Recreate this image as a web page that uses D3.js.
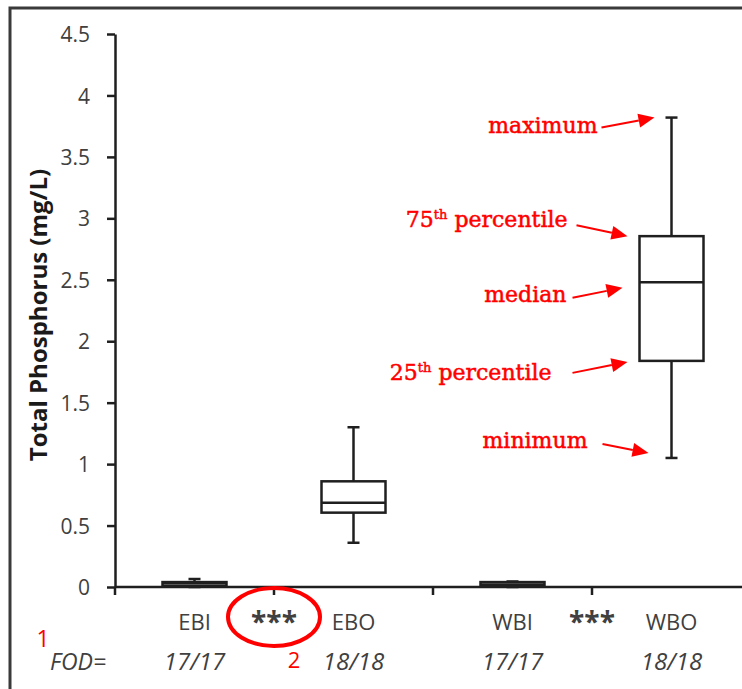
<!DOCTYPE html>
<html>
<head>
<meta charset="utf-8">
<script src="https://cdn.jsdelivr.net/npm/d3@7"></script>
<style>
  html, body { margin: 0; padding: 0; background: #fff; }
  svg { display: block; }
</style>
</head>
<body>
<svg id="chart" width="742" height="689"></svg>
<script>
// Total phosphorus five-number summaries per site
const categories = ["EBI", "EBO", "WBI", "WBO"];
const fodLabels = ["17/17", "18/18", "17/17", "18/18"];
const minValues = [0.0, 0.36, 0.0, 1.05];
const q1Values = [0.01, 0.605, 0.01, 1.84];
const medianValues = [0.03, 0.685, 0.02, 2.48];
const q3Values = [0.04, 0.86, 0.04, 2.855];
const maxValues = [0.065, 1.30, 0.045, 3.82];
const yTicks = [0, 0.5, 1, 1.5, 2, 2.5, 3, 3.5, 4, 4.5];
// significance markers sit between these category pairs
const sigPairs = [["EBI", "EBO"], ["WBI", "WBO"]];

const svg = d3.select("#chart");
const axisColor = "#1f1f1f";
const textColor = "#404040";
const red = "#ff0000";
const sans = "'Open Sans', 'Liberation Sans', sans-serif";
const serif = "'DejaVu Serif', 'Liberation Serif', serif";

const y = d3.scaleLinear().domain([0, 4.5]).range([587, 34]);
const x = d3.scaleBand().domain(categories).range([115, 751]).padding(0);
const cx = c => x(c) + x.bandwidth() / 2;
const boxW = 64, capW = 12;

// frame around the figure
svg.append("path")
  .attr("d", "M10,689 V8 H742")
  .attr("fill", "none").attr("stroke", "#3a3a3a").attr("stroke-width", 3);

// y axis
const yAxis = svg.append("g").attr("transform", "translate(115,0)")
  .call(d3.axisLeft(y).tickValues(yTicks).tickSize(8).tickSizeOuter(0).tickPadding(17)
    .tickFormat(d => String(d)));
yAxis.select(".domain").attr("stroke", axisColor).attr("stroke-width", 2.5);
yAxis.selectAll(".tick line").attr("stroke", axisColor).attr("stroke-width", 2.5);
yAxis.selectAll(".tick text")
  .attr("fill", textColor).attr("font-family", sans).attr("font-size", 21)
  .attr("dy", "0.36em");

svg.append("text")
  .attr("transform", `translate(47,315) rotate(-90)`)
  .attr("text-anchor", "middle")
  .attr("font-family", sans).attr("font-weight", "bold").attr("font-size", 24)
  .attr("fill", "#1a1a1a")
  .text("Total Phosphorus (mg/L)");

// x axis with ticks at category boundaries
const xAxisG = svg.append("g");
xAxisG.append("line")
  .attr("x1", 115).attr("x2", 751).attr("y1", y(0)).attr("y2", y(0))
  .attr("stroke", axisColor).attr("stroke-width", 2.5);
const boundaries = categories.map(c => x(c)).concat([x.range()[1]]);
xAxisG.selectAll(".xtick").data(boundaries).join("line")
  .attr("x1", d => d).attr("x2", d => d)
  .attr("y1", y(0)).attr("y2", y(0) + 8)
  .attr("stroke", axisColor).attr("stroke-width", 2.5);

// boxes
const stats = categories.map((c, i) => ({
  c, min: minValues[i], q1: q1Values[i], med: medianValues[i], q3: q3Values[i], max: maxValues[i]
}));
const boxes = svg.append("g").attr("stroke", axisColor).attr("stroke-width", 2.5).attr("fill", "none");
stats.forEach(s => {
  const g = boxes.append("g");
  const c = cx(s.c);
  g.append("line").attr("x1", c).attr("x2", c).attr("y1", y(s.max)).attr("y2", y(s.q3));
  g.append("line").attr("x1", c).attr("x2", c).attr("y1", y(s.q1)).attr("y2", y(s.min));
  g.append("line").attr("x1", c - capW / 2).attr("x2", c + capW / 2).attr("y1", y(s.max)).attr("y2", y(s.max));
  g.append("line").attr("x1", c - capW / 2).attr("x2", c + capW / 2).attr("y1", y(s.min)).attr("y2", y(s.min));
  g.append("rect").attr("x", c - boxW / 2).attr("width", boxW)
    .attr("y", y(s.q3)).attr("height", Math.max(0, y(s.q1) - y(s.q3)))
    .attr("fill", "#fff");
  g.append("line").attr("x1", c - boxW / 2).attr("x2", c + boxW / 2).attr("y1", y(s.med)).attr("y2", y(s.med));
});

// category labels and detection frequencies
svg.selectAll(".cat").data(categories).join("text")
  .attr("x", d => cx(d)).attr("y", 630)
  .attr("text-anchor", "middle").attr("font-family", sans).attr("font-size", 22)
  .attr("fill", textColor).text(d => d);
svg.selectAll(".fod").data(fodLabels).join("text")
  .attr("x", (d, i) => cx(categories[i])).attr("y", 670)
  .attr("text-anchor", "middle").attr("font-family", sans).attr("font-style", "italic")
  .attr("font-size", 24).attr("fill", textColor).text(d => d);
svg.append("text").attr("x", 50).attr("y", 670)
  .attr("font-family", sans).attr("font-style", "italic").attr("font-size", 23)
  .attr("fill", textColor).text("FOD=");

// significance stars between paired sites
sigPairs.forEach(([a, b], i) => {
  const mx = (cx(a) + cx(b)) / 2;
  svg.append("text").attr("x", mx).attr("y", 632)
    .attr("text-anchor", "middle").attr("font-family", sans).attr("font-weight", "bold")
    .attr("font-size", 28).attr("fill", textColor).text("***");
  if (i === 0) {
    svg.append("ellipse").attr("cx", mx).attr("cy", 617).attr("rx", 46).attr("ry", 29)
      .attr("fill", "none").attr("stroke", red).attr("stroke-width", 4);
  }
});

// red footnote numerals
svg.append("text").attr("x", 43).attr("y", 647).attr("text-anchor", "middle")
  .attr("font-family", sans).attr("font-size", 23).attr("fill", red).text("1");
svg.append("text").attr("x", 294).attr("y", 668).attr("text-anchor", "middle")
  .attr("font-family", sans).attr("font-size", 22).attr("fill", red).text("2");

// legend annotations pointing at the WBO box
const wbo = stats[3];
const wx = cx("WBO");
const notes = [
  { key: "max", label: ["maximum"], tx: -74, ty: 15, sx: -70, sy: 10, ex: -17, ey: 0 },
  { key: "q3", label: ["75", "th", " percentile"], tx: -104, ty: -9, sx: -95, sy: -11, ex: -44, ey: 0 },
  { key: "med", label: ["median"], tx: -105, ty: 19.5, sx: -99, sy: 15.5, ex: -49, ey: 5.5 },
  { key: "q1", label: ["25", "th", " percentile"], tx: -120, ty: 19, sx: -99, sy: 12, ex: -44, ey: 1 },
  { key: "min", label: ["minimum"], tx: -84, ty: -10, sx: -69, sy: -14, ex: -23, ey: -5 }
];
const ann = svg.append("g");
notes.forEach(n => {
  const yy = y(wbo[n.key]);
  const t = ann.append("text").attr("x", wx + n.tx).attr("y", yy + n.ty)
    .attr("text-anchor", "end").attr("font-family", serif)
    .attr("font-size", 22).attr("fill", red)
    .attr("stroke", red).attr("stroke-width", 0.5);
  if (n.label.length === 1) {
    t.text(n.label[0]);
  } else {
    t.append("tspan").text(n.label[0]);
    t.append("tspan").attr("font-size", 13).attr("dy", -8).text(n.label[1]);
    t.append("tspan").attr("dy", 8).text(n.label[2]);
  }
  const x0 = wx + n.sx, y0 = yy + n.sy, x1 = wx + n.ex, y1 = yy + n.ey;
  const ang = Math.atan2(y1 - y0, x1 - x0);
  const hl = 16, hw = 7;
  const bx = x1 - hl * Math.cos(ang), by = y1 - hl * Math.sin(ang);
  ann.append("line").attr("x1", x0).attr("y1", y0).attr("x2", bx).attr("y2", by)
    .attr("stroke", red).attr("stroke-width", 2);
  const px = -Math.sin(ang) * hw, py = Math.cos(ang) * hw;
  ann.append("path")
    .attr("d", `M${x1},${y1} L${bx + px},${by + py} L${bx - px},${by - py} Z`)
    .attr("fill", red);
});
</script>
</body>
</html>
